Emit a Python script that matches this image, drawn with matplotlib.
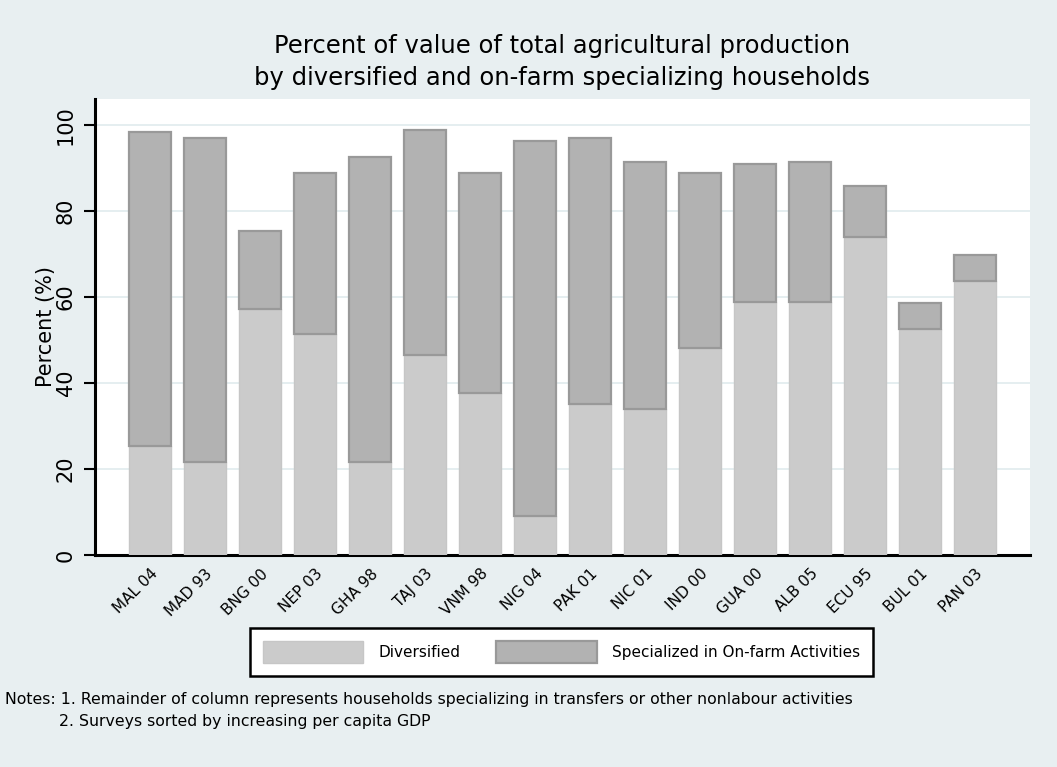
import numpy as np
import matplotlib
matplotlib.use("Agg")
import matplotlib.pyplot as plt

surveys = ["MAL 04", "MAD 93", "BNG 00", "NEP 03", "GHA 98", "TAJ 03", "VNM 98", "NIG 04",
           "PAK 01", "NIC 01", "IND 00", "GUA 00", "ALB 05", "ECU 95", "BUL 01", "PAN 03"]
# percent of value, diversified households
diversified = [25.3, 21.6, 57.1, 51.4, 21.6, 46.4, 37.7, 9.1,
               35.2, 33.9, 48.1, 58.9, 58.9, 73.8, 52.6, 63.8]
# total height (diversified + on-farm specialised)
total = [98.3, 97.0, 75.2, 88.8, 92.6, 98.8, 88.8, 96.3,
         96.9, 91.4, 88.8, 90.8, 91.4, 85.7, 58.5, 69.7]
specialized = [t - d for t, d in zip(total, diversified)]

bg = "#e8eff1"
c_div = "#cbcbcb"
c_spec = "#b2b2b2"

fig = plt.figure(figsize=(10.57, 7.67), dpi=100, facecolor=bg)
ax = fig.add_axes([0.0899, 0.2764, 0.8846, 0.5946])
ax.set_facecolor("white")

x = np.arange(len(surveys))
ax.bar(x, diversified, width=0.76, color=c_div, edgecolor="#c6c6c6", linewidth=1,
       label="Diversified", zorder=3)
ax.bar(x, specialized, width=0.76, bottom=diversified, color=c_spec, edgecolor="#999999",
       linewidth=1.6, label="Specialized in On-farm Activities", zorder=3)

ax.set_xlim(-1, 16)
ax.set_ylim(0, 106)
ax.set_yticks([0, 20, 40, 60, 80, 100])
ax.yaxis.grid(True, color="#e3edef", linewidth=1.3, zorder=0)
ax.set_xticks(x)
ax.set_xticklabels(surveys, rotation=45, ha="right", rotation_mode="anchor", fontsize=11)
for lab in ax.get_yticklabels():
    lab.set_rotation(90)
    lab.set_va("center")
ax.tick_params(axis="y", labelsize=15, length=8, width=1.5, pad=6)
ax.tick_params(axis="x", length=0, pad=8)

for s in ["top", "right"]:
    ax.spines[s].set_visible(False)
for s in ["left", "bottom"]:
    ax.spines[s].set_linewidth(2.2)
ax.set_ylabel("Percent (%)", fontsize=15, labelpad=0)

fig.text(0.532, 0.919, "Percent of value of total agricultural production\nby diversified and on-farm specializing households",
         ha="center", va="center", fontsize=17.5, linespacing=1.45)

leg = fig.legend(loc="center", bbox_to_anchor=(0.531, 0.150), ncol=2, fontsize=11,
                 handlelength=6.6, handleheight=1.9, handletextpad=1.0, columnspacing=2.3,
                 fancybox=False, framealpha=1, edgecolor="black", borderpad=0.85,
                 borderaxespad=0)
leg.get_frame().set_linewidth(1.8)

fig.text(0.005, 0.088, "Notes: 1. Remainder of column represents households specializing in transfers or other nonlabour activities",
         fontsize=11.3, va="center")
fig.text(0.056, 0.059, "2. Surveys sorted by increasing per capita GDP", fontsize=11.3, va="center")

fig.savefig("out.png", dpi=100, facecolor=bg)
